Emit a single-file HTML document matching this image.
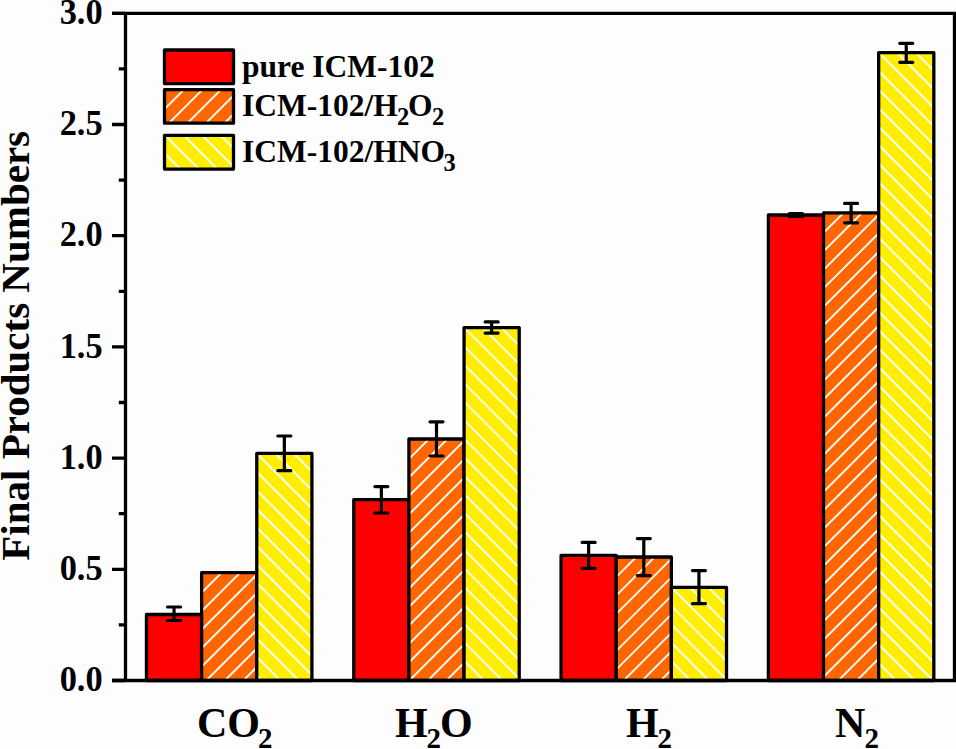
<!DOCTYPE html>
<html><head><meta charset="utf-8"><title>Final Products Numbers</title>
<style>html,body{margin:0;padding:0;background:#fdfdfd;width:956px;height:749px;overflow:hidden}svg{display:block}</style>
</head><body>
<svg width="956" height="749" viewBox="0 0 956 749">
<defs><clipPath id="c1"><rect x="201.62" y="572.70" width="55.15" height="107.80"/></clipPath><clipPath id="c2"><rect x="256.77" y="453.40" width="55.15" height="227.10"/></clipPath><clipPath id="c3"><rect x="408.92" y="439.00" width="55.15" height="241.50"/></clipPath><clipPath id="c4"><rect x="464.07" y="327.60" width="55.15" height="352.90"/></clipPath><clipPath id="c5"><rect x="616.22" y="557.00" width="55.15" height="123.50"/></clipPath><clipPath id="c6"><rect x="671.37" y="587.40" width="55.15" height="93.10"/></clipPath><clipPath id="c7"><rect x="823.52" y="212.90" width="55.15" height="467.60"/></clipPath><clipPath id="c8"><rect x="878.67" y="52.60" width="55.15" height="627.90"/></clipPath><clipPath id="c9"><rect x="164.50" y="89.60" width="69.00" height="33.60"/></clipPath><clipPath id="c10"><rect x="164.50" y="135.40" width="69.00" height="33.70"/></clipPath></defs>
<rect width="956" height="749" fill="#fdfdfd"/>
<rect x="146.47" y="614.50" width="55.15" height="66.00" fill="#FF0000"/><rect x="146.47" y="614.50" width="55.15" height="66.00" fill="none" stroke="#000" stroke-width="3.3" stroke-linejoin="round"/><rect x="201.62" y="572.70" width="55.15" height="107.80" fill="#FF6600"/><path clip-path="url(#c1)" d="M171.12 567.70L53.33 685.50M189.62 567.70L71.83 685.50M208.12 567.70L90.33 685.50M226.62 567.70L108.83 685.50M245.12 567.70L127.33 685.50M263.62 567.70L145.83 685.50M282.12 567.70L164.33 685.50M300.62 567.70L182.83 685.50M319.12 567.70L201.33 685.50M337.62 567.70L219.83 685.50M356.12 567.70L238.33 685.50M374.62 567.70L256.83 685.50M393.12 567.70L275.33 685.50" stroke="#fff" stroke-width="1.9" fill="none"/><rect x="201.62" y="572.70" width="55.15" height="107.80" fill="none" stroke="#000" stroke-width="3.3" stroke-linejoin="round"/><rect x="256.77" y="453.40" width="55.15" height="227.10" fill="#FFEE00"/><path clip-path="url(#c2)" d="M-7.23 448.40L229.88 685.50M11.27 448.40L248.38 685.50M29.77 448.40L266.88 685.50M48.27 448.40L285.38 685.50M66.77 448.40L303.88 685.50M85.27 448.40L322.38 685.50M103.77 448.40L340.88 685.50M122.27 448.40L359.38 685.50M140.77 448.40L377.88 685.50M159.27 448.40L396.38 685.50M177.77 448.40L414.88 685.50M196.27 448.40L433.38 685.50M214.77 448.40L451.88 685.50M233.27 448.40L470.38 685.50M251.77 448.40L488.88 685.50M270.27 448.40L507.38 685.50M288.77 448.40L525.88 685.50M307.27 448.40L544.38 685.50M325.77 448.40L562.88 685.50" stroke="#fff" stroke-width="1.9" fill="none"/><rect x="256.77" y="453.40" width="55.15" height="227.10" fill="none" stroke="#000" stroke-width="3.3" stroke-linejoin="round"/><rect x="353.77" y="499.70" width="55.15" height="180.80" fill="#FF0000"/><rect x="353.77" y="499.70" width="55.15" height="180.80" fill="none" stroke="#000" stroke-width="3.3" stroke-linejoin="round"/><rect x="408.92" y="439.00" width="55.15" height="241.50" fill="#FF6600"/><path clip-path="url(#c3)" d="M378.42 434.00L126.92 685.50M396.92 434.00L145.42 685.50M415.42 434.00L163.92 685.50M433.92 434.00L182.42 685.50M452.42 434.00L200.92 685.50M470.92 434.00L219.42 685.50M489.42 434.00L237.92 685.50M507.92 434.00L256.42 685.50M526.42 434.00L274.92 685.50M544.92 434.00L293.42 685.50M563.42 434.00L311.92 685.50M581.92 434.00L330.42 685.50M600.42 434.00L348.92 685.50M618.92 434.00L367.42 685.50M637.42 434.00L385.92 685.50M655.92 434.00L404.42 685.50M674.42 434.00L422.92 685.50M692.92 434.00L441.42 685.50M711.42 434.00L459.92 685.50M729.92 434.00L478.42 685.50" stroke="#fff" stroke-width="1.9" fill="none"/><rect x="408.92" y="439.00" width="55.15" height="241.50" fill="none" stroke="#000" stroke-width="3.3" stroke-linejoin="round"/><rect x="464.07" y="327.60" width="55.15" height="352.90" fill="#FFEE00"/><path clip-path="url(#c4)" d="M70.57 322.60L433.47 685.50M89.07 322.60L451.97 685.50M107.57 322.60L470.47 685.50M126.07 322.60L488.97 685.50M144.57 322.60L507.47 685.50M163.07 322.60L525.97 685.50M181.57 322.60L544.47 685.50M200.07 322.60L562.97 685.50M218.57 322.60L581.47 685.50M237.07 322.60L599.97 685.50M255.57 322.60L618.47 685.50M274.07 322.60L636.97 685.50M292.57 322.60L655.47 685.50M311.07 322.60L673.97 685.50M329.57 322.60L692.47 685.50M348.07 322.60L710.97 685.50M366.57 322.60L729.47 685.50M385.07 322.60L747.97 685.50M403.57 322.60L766.47 685.50M422.07 322.60L784.97 685.50M440.57 322.60L803.47 685.50M459.07 322.60L821.97 685.50M477.57 322.60L840.47 685.50M496.07 322.60L858.97 685.50M514.58 322.60L877.47 685.50M533.08 322.60L895.97 685.50" stroke="#fff" stroke-width="1.9" fill="none"/><rect x="464.07" y="327.60" width="55.15" height="352.90" fill="none" stroke="#000" stroke-width="3.3" stroke-linejoin="round"/><rect x="561.07" y="555.40" width="55.15" height="125.10" fill="#FF0000"/><rect x="561.07" y="555.40" width="55.15" height="125.10" fill="none" stroke="#000" stroke-width="3.3" stroke-linejoin="round"/><rect x="616.22" y="557.00" width="55.15" height="123.50" fill="#FF6600"/><path clip-path="url(#c5)" d="M585.72 552.00L452.22 685.50M604.22 552.00L470.72 685.50M622.72 552.00L489.22 685.50M641.22 552.00L507.72 685.50M659.72 552.00L526.22 685.50M678.22 552.00L544.72 685.50M696.72 552.00L563.22 685.50M715.22 552.00L581.72 685.50M733.72 552.00L600.22 685.50M752.22 552.00L618.72 685.50M770.72 552.00L637.22 685.50M789.22 552.00L655.72 685.50M807.72 552.00L674.22 685.50M826.22 552.00L692.72 685.50" stroke="#fff" stroke-width="1.9" fill="none"/><rect x="616.22" y="557.00" width="55.15" height="123.50" fill="none" stroke="#000" stroke-width="3.3" stroke-linejoin="round"/><rect x="671.37" y="587.40" width="55.15" height="93.10" fill="#FFEE00"/><path clip-path="url(#c6)" d="M536.87 582.40L639.97 685.50M555.37 582.40L658.47 685.50M573.87 582.40L676.97 685.50M592.37 582.40L695.47 685.50M610.87 582.40L713.97 685.50M629.37 582.40L732.47 685.50M647.87 582.40L750.97 685.50M666.37 582.40L769.47 685.50M684.87 582.40L787.97 685.50M703.37 582.40L806.47 685.50M721.87 582.40L824.97 685.50M740.37 582.40L843.47 685.50" stroke="#fff" stroke-width="1.9" fill="none"/><rect x="671.37" y="587.40" width="55.15" height="93.10" fill="none" stroke="#000" stroke-width="3.3" stroke-linejoin="round"/><rect x="768.38" y="215.00" width="55.15" height="465.50" fill="#FF0000"/><rect x="768.38" y="215.00" width="55.15" height="465.50" fill="none" stroke="#000" stroke-width="3.3" stroke-linejoin="round"/><rect x="823.52" y="212.90" width="55.15" height="467.60" fill="#FF6600"/><path clip-path="url(#c7)" d="M793.02 207.90L315.42 685.50M811.52 207.90L333.92 685.50M830.02 207.90L352.42 685.50M848.52 207.90L370.92 685.50M867.02 207.90L389.42 685.50M885.52 207.90L407.92 685.50M904.02 207.90L426.42 685.50M922.52 207.90L444.92 685.50M941.02 207.90L463.42 685.50M959.52 207.90L481.92 685.50M978.02 207.90L500.42 685.50M996.52 207.90L518.92 685.50M1015.02 207.90L537.42 685.50M1033.52 207.90L555.92 685.50M1052.02 207.90L574.42 685.50M1070.52 207.90L592.92 685.50M1089.02 207.90L611.42 685.50M1107.52 207.90L629.92 685.50M1126.02 207.90L648.42 685.50M1144.52 207.90L666.92 685.50M1163.02 207.90L685.42 685.50M1181.52 207.90L703.92 685.50M1200.02 207.90L722.42 685.50M1218.52 207.90L740.92 685.50M1237.02 207.90L759.42 685.50M1255.52 207.90L777.92 685.50M1274.02 207.90L796.42 685.50M1292.52 207.90L814.92 685.50M1311.02 207.90L833.42 685.50M1329.52 207.90L851.92 685.50M1348.02 207.90L870.42 685.50M1366.52 207.90L888.92 685.50M1385.02 207.90L907.42 685.50" stroke="#fff" stroke-width="1.9" fill="none"/><rect x="823.52" y="212.90" width="55.15" height="467.60" fill="none" stroke="#000" stroke-width="3.3" stroke-linejoin="round"/><rect x="878.67" y="52.60" width="55.15" height="627.90" fill="#FFEE00"/><path clip-path="url(#c8)" d="M226.17 47.60L864.07 685.50M244.67 47.60L882.57 685.50M263.17 47.60L901.07 685.50M281.67 47.60L919.57 685.50M300.17 47.60L938.07 685.50M318.67 47.60L956.57 685.50M337.17 47.60L975.07 685.50M355.67 47.60L993.57 685.50M374.17 47.60L1012.07 685.50M392.67 47.60L1030.57 685.50M411.17 47.60L1049.07 685.50M429.67 47.60L1067.57 685.50M448.17 47.60L1086.07 685.50M466.67 47.60L1104.57 685.50M485.17 47.60L1123.07 685.50M503.67 47.60L1141.57 685.50M522.17 47.60L1160.07 685.50M540.67 47.60L1178.57 685.50M559.17 47.60L1197.07 685.50M577.67 47.60L1215.57 685.50M596.17 47.60L1234.07 685.50M614.67 47.60L1252.57 685.50M633.17 47.60L1271.07 685.50M651.67 47.60L1289.57 685.50M670.17 47.60L1308.07 685.50M688.67 47.60L1326.57 685.50M707.17 47.60L1345.07 685.50M725.67 47.60L1363.57 685.50M744.17 47.60L1382.07 685.50M762.67 47.60L1400.57 685.50M781.17 47.60L1419.07 685.50M799.67 47.60L1437.57 685.50M818.17 47.60L1456.07 685.50M836.67 47.60L1474.57 685.50M855.17 47.60L1493.07 685.50M873.67 47.60L1511.57 685.50M892.17 47.60L1530.07 685.50M910.67 47.60L1548.57 685.50M929.17 47.60L1567.07 685.50M947.67 47.60L1585.57 685.50" stroke="#fff" stroke-width="1.9" fill="none"/><rect x="878.67" y="52.60" width="55.15" height="627.90" fill="none" stroke="#000" stroke-width="3.3" stroke-linejoin="round"/>
<path d="M174.05 607V620.5M167.55 607h13M167.55 620.5h13M284.35 436V470.7M277.85 436h13M277.85 470.7h13M381.35 486.6V513M374.85 486.6h13M374.85 513h13M436.50 421.8V456M430.00 421.8h13M430.00 456h13M491.65 321.9V333.1M485.15 321.9h13M485.15 333.1h13M588.65 542.4V568.3M582.15 542.4h13M582.15 568.3h13M643.80 538.6V575.6M637.30 538.6h13M637.30 575.6h13M698.95 570.6V603.6M692.45 570.6h13M692.45 603.6h13M795.95 213.6V216.4M789.45 213.6h13M789.45 216.4h13M851.10 203.4V222.8M844.60 203.4h13M844.60 222.8h13M906.25 43.3V62.35M899.75 43.3h13M899.75 62.35h13" stroke="#000" stroke-width="3.2" stroke-linecap="round" fill="none"/>
<path d="M125.5 13.3V680.5M112 680.5H956M112 13.3H954.5V680.5" stroke="#000" stroke-width="3.3" fill="none"/><path d="M112 680.50H125.5M118.8 624.90H125.5M112 569.30H125.5M118.8 513.70H125.5M112 458.10H125.5M118.8 402.50H125.5M112 346.90H125.5M118.8 291.30H125.5M112 235.70H125.5M118.8 180.10H125.5M112 124.50H125.5M118.8 68.90H125.5M112 13.30H125.5" stroke="#000" stroke-width="3.3" fill="none"/>
<text transform="translate(102.6,691.20) scale(0.955,1)" font-family="Liberation Serif, serif" font-weight="bold" font-size="36" text-anchor="end">0.0</text><text transform="translate(102.6,580.00) scale(0.955,1)" font-family="Liberation Serif, serif" font-weight="bold" font-size="36" text-anchor="end">0.5</text><text transform="translate(102.6,468.80) scale(0.955,1)" font-family="Liberation Serif, serif" font-weight="bold" font-size="36" text-anchor="end">1.0</text><text transform="translate(102.6,357.60) scale(0.955,1)" font-family="Liberation Serif, serif" font-weight="bold" font-size="36" text-anchor="end">1.5</text><text transform="translate(102.6,246.40) scale(0.955,1)" font-family="Liberation Serif, serif" font-weight="bold" font-size="36" text-anchor="end">2.0</text><text transform="translate(102.6,135.20) scale(0.955,1)" font-family="Liberation Serif, serif" font-weight="bold" font-size="36" text-anchor="end">2.5</text><text transform="translate(102.6,24.00) scale(0.955,1)" font-family="Liberation Serif, serif" font-weight="bold" font-size="36" text-anchor="end">3.0</text><text x="197" y="737.1" font-family="Liberation Serif, serif" font-weight="bold" font-size="42">CO</text><text x="258" y="747.7" font-family="Liberation Serif, serif" font-weight="bold" font-size="29">2</text><text x="395" y="737.1" font-family="Liberation Serif, serif" font-weight="bold" font-size="42">H</text><text x="426.5" y="747.7" font-family="Liberation Serif, serif" font-weight="bold" font-size="29">2</text><text x="440" y="737.1" font-family="Liberation Serif, serif" font-weight="bold" font-size="42">O</text><text x="626" y="737.1" font-family="Liberation Serif, serif" font-weight="bold" font-size="42">H</text><text x="657.5" y="747.7" font-family="Liberation Serif, serif" font-weight="bold" font-size="29">2</text><text x="835" y="737.1" font-family="Liberation Serif, serif" font-weight="bold" font-size="42">N</text><text x="864.5" y="747.7" font-family="Liberation Serif, serif" font-weight="bold" font-size="29">2</text><text transform="translate(29,560.7) rotate(-90)" font-family="Liberation Serif, serif" font-weight="bold" font-size="41">Final Products Numbers</text>
<rect x="164.5" y="50" width="69.0" height="33.599999999999994" fill="#FF0000"/><rect x="164.5" y="50" width="69.0" height="33.599999999999994" fill="none" stroke="#000" stroke-width="3.3" stroke-linejoin="round"/><rect x="164.5" y="89.6" width="69.0" height="33.60000000000001" fill="#FF6600"/><path clip-path="url(#c9)" d="M133.50 84.60L89.90 128.20M152.00 84.60L108.40 128.20M170.50 84.60L126.90 128.20M189.00 84.60L145.40 128.20M207.50 84.60L163.90 128.20M226.00 84.60L182.40 128.20M244.50 84.60L200.90 128.20M263.00 84.60L219.40 128.20M281.50 84.60L237.90 128.20M300.00 84.60L256.40 128.20" stroke="#fff" stroke-width="1.9" fill="none"/><rect x="164.5" y="89.6" width="69.0" height="33.60000000000001" fill="none" stroke="#000" stroke-width="3.3" stroke-linejoin="round"/><rect x="164.5" y="135.4" width="69.0" height="33.69999999999999" fill="#FFEE00"/><path clip-path="url(#c10)" d="M104.80 130.40L148.50 174.10M123.30 130.40L167.00 174.10M141.80 130.40L185.50 174.10M160.30 130.40L204.00 174.10M178.80 130.40L222.50 174.10M197.30 130.40L241.00 174.10M215.80 130.40L259.50 174.10M234.30 130.40L278.00 174.10M252.80 130.40L296.50 174.10" stroke="#fff" stroke-width="1.9" fill="none"/><rect x="164.5" y="135.4" width="69.0" height="33.69999999999999" fill="none" stroke="#000" stroke-width="3.3" stroke-linejoin="round"/><text x="242" y="77" font-family="Liberation Serif, serif" font-weight="bold" font-size="31.5">pure ICM-102</text><text x="242" y="116.1" font-family="Liberation Serif, serif" font-weight="bold" font-size="31.5">ICM-102/H</text><text x="397" y="124.9" font-family="Liberation Serif, serif" font-weight="bold" font-size="24.5">2</text><text x="408" y="116.1" font-family="Liberation Serif, serif" font-weight="bold" font-size="31.5">O</text><text x="432" y="124.9" font-family="Liberation Serif, serif" font-weight="bold" font-size="24.5">2</text><text x="242" y="161.8" font-family="Liberation Serif, serif" font-weight="bold" font-size="31.5">ICM-102/HNO</text><text x="443.5" y="171" font-family="Liberation Serif, serif" font-weight="bold" font-size="24.5">3</text>
</svg>
</body></html>
